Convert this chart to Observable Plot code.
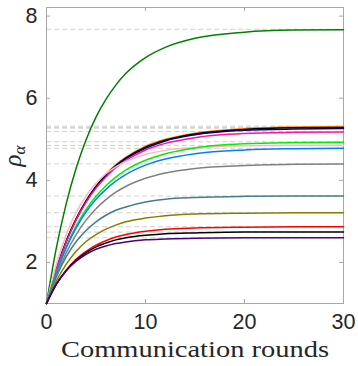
<!DOCTYPE html>
<html><head><meta charset="utf-8">
<script src="https://cdn.jsdelivr.net/npm/d3@7"></script>
<script src="https://cdn.jsdelivr.net/npm/@observablehq/plot@0.6"></script>
<style>body{margin:0;background:#fff} svg{display:block;background:#fff}</style>
</head><body><div id="chart"></div>
<script>
// Communication rounds sampled
const rounds = [0,1,2,3,4,5,6,7,8,10,12,15,20,25,30];

// Series values
const sGreen   = [1,2.36,3.44,4.30,4.99,5.54,5.97,6.32,6.60,6.99,7.24,7.46,7.61,7.66,7.67];
const sOrange  = [1,1.84,2.53,3.07,3.51,3.86,4.15,4.38,4.56,4.83,5.00,5.15,5.26,5.30,5.31];
const sBlackA  = [1,1.84,2.52,3.06,3.50,3.85,4.13,4.36,4.54,4.81,4.98,5.13,5.24,5.28,5.29];
const sNavy    = [1,1.83,2.51,3.05,3.48,3.83,4.11,4.34,4.52,4.78,4.96,5.11,5.22,5.25,5.26];
const sMagenta = [1,1.83,2.50,3.04,3.47,3.81,4.08,4.31,4.48,4.74,4.90,5.04,5.14,5.17,5.18];
const sPink    = [1,1.96,2.68,3.22,3.62,3.93,4.16,4.33,4.46,4.63,4.73,4.80,4.84,4.85,4.85];
const sLime    = [1,1.77,2.39,2.89,3.29,3.61,3.87,4.08,4.25,4.49,4.65,4.79,4.89,4.92,4.93];
const sBlue    = [1,1.75,2.36,2.84,3.23,3.54,3.78,3.98,4.14,4.37,4.52,4.65,4.74,4.77,4.78];
const sGray    = [1,1.69,2.24,2.68,3.03,3.31,3.53,3.71,3.85,4.05,4.18,4.29,4.36,4.39,4.40];
const sTeal    = [1,1.65,2.14,2.51,2.78,2.99,3.15,3.27,3.35,3.47,3.54,3.58,3.61,3.62,3.62];
const sOlive   = [1,1.55,1.96,2.27,2.51,2.68,2.81,2.91,2.99,3.08,3.14,3.18,3.20,3.21,3.21];
const sRed     = [1,1.47,1.81,2.08,2.27,2.42,2.53,2.62,2.68,2.76,2.81,2.84,2.86,2.87,2.87];
const sBlackB  = [1,1.47,1.81,2.06,2.24,2.38,2.47,2.55,2.60,2.66,2.70,2.72,2.74,2.74,2.74];
const sPurple  = [1,1.47,1.80,2.03,2.20,2.32,2.40,2.46,2.50,2.55,2.57,2.59,2.60,2.60,2.60];

const seriesNames  = ["green","orange","blackA","navy","magenta","pink","lime","blue","gray","teal","olive","red","blackB","purple"];
const seriesValues = [sGreen,sOrange,sBlackA,sNavy,sMagenta,sPink,sLime,sBlue,sGray,sTeal,sOlive,sRed,sBlackB,sPurple];
const seriesColors = ["#008000","#ff8000","#000000","#000080","#ff1493","#ffb6c1","#00ee00","#0080ff","#808080","#408080","#808000","#ff0000","#000000","#4b0082"];

// Limit values (dashed reference lines)
const limits = [7.68,5.32,5.29,5.27,5.19,4.94,4.85,4.78,4.40,3.62,3.21,2.87,2.74,2.60];

const xTicks = [0,10,20,30];
const yTicks = [2,4,6,8];
const xLabel = "Communication rounds";

const table = [];
seriesNames.forEach((name, i) => {
  rounds.forEach((r, j) => table.push({series: name, round: r, value: seriesValues[i][j]}));
});

const W = 358, H = 366, mL = 46, mR = 15, mT = 7, mB = 63;
const pw = W - mL - mR, ph = H - mT - mB;
const frameColor = "#a8a8a8";

const plot = Plot.plot({
  width: W, height: H,
  marginLeft: mL, marginRight: mR, marginTop: mT, marginBottom: mB,
  style: {background: "#fff", overflow: "visible"},
  x: {domain: [0, 30], axis: null},
  y: {domain: [1, 8.21], axis: null},
  color: {domain: seriesNames, range: seriesColors},
  marks: [
    Plot.ruleY(limits, {y: d => d, stroke: "#d3d0ca", strokeWidth: 1, strokeDasharray: "5,3"}),
    Plot.frame({stroke: frameColor, strokeWidth: 1}),
    Plot.tickX(xTicks, {x: d => d, stroke: frameColor, insetTop: ph - 4}),
    Plot.tickX(xTicks, {x: d => d, stroke: frameColor, insetBottom: ph - 4}),
    Plot.tickY(yTicks, {y: d => d, stroke: frameColor, insetRight: pw - 4}),
    Plot.tickY(yTicks, {y: d => d, stroke: frameColor, insetLeft: pw - 4}),
    Plot.line(table, {x: "round", y: "value", z: "series", stroke: "series", strokeWidth: 1.5, curve: "monotone-x"}),
    Plot.axisX(xTicks, {tickSize: 0, tickPadding: 10, fontSize: 21.5, fontFamily: "Liberation Sans, Arial, sans-serif", fill: "#262626", label: null}),
    Plot.axisY(yTicks, {tickSize: 0, tickPadding: 9, fontSize: 21.5, fontFamily: "Liberation Sans, Arial, sans-serif", fill: "#262626", label: null}),
    Plot.text([xLabel], {frameAnchor: "bottom", dy: 53, lineAnchor: "bottom", fontSize: 23, fontFamily: "Liberation Serif, serif", fill: "#262626", className: "xlab"})
  ]
});

const svg = d3.select(plot);
svg.selectAll(".xlab text").attr("textLength", 268).attr("lengthAdjust", "spacingAndGlyphs");
const yl = svg.append("text")
  .attr("transform", "translate(21,156) rotate(-90)")
  .attr("text-anchor", "middle")
  .attr("font-family", "Liberation Serif, serif")
  .attr("font-style", "italic")
  .attr("font-size", 25)
  .attr("fill", "#262626");
yl.append("tspan").text("ρ");
yl.append("tspan").attr("font-size", 17).attr("dy", "0.25em").text("α");

document.getElementById("chart").appendChild(plot);
</script>
</body></html>
